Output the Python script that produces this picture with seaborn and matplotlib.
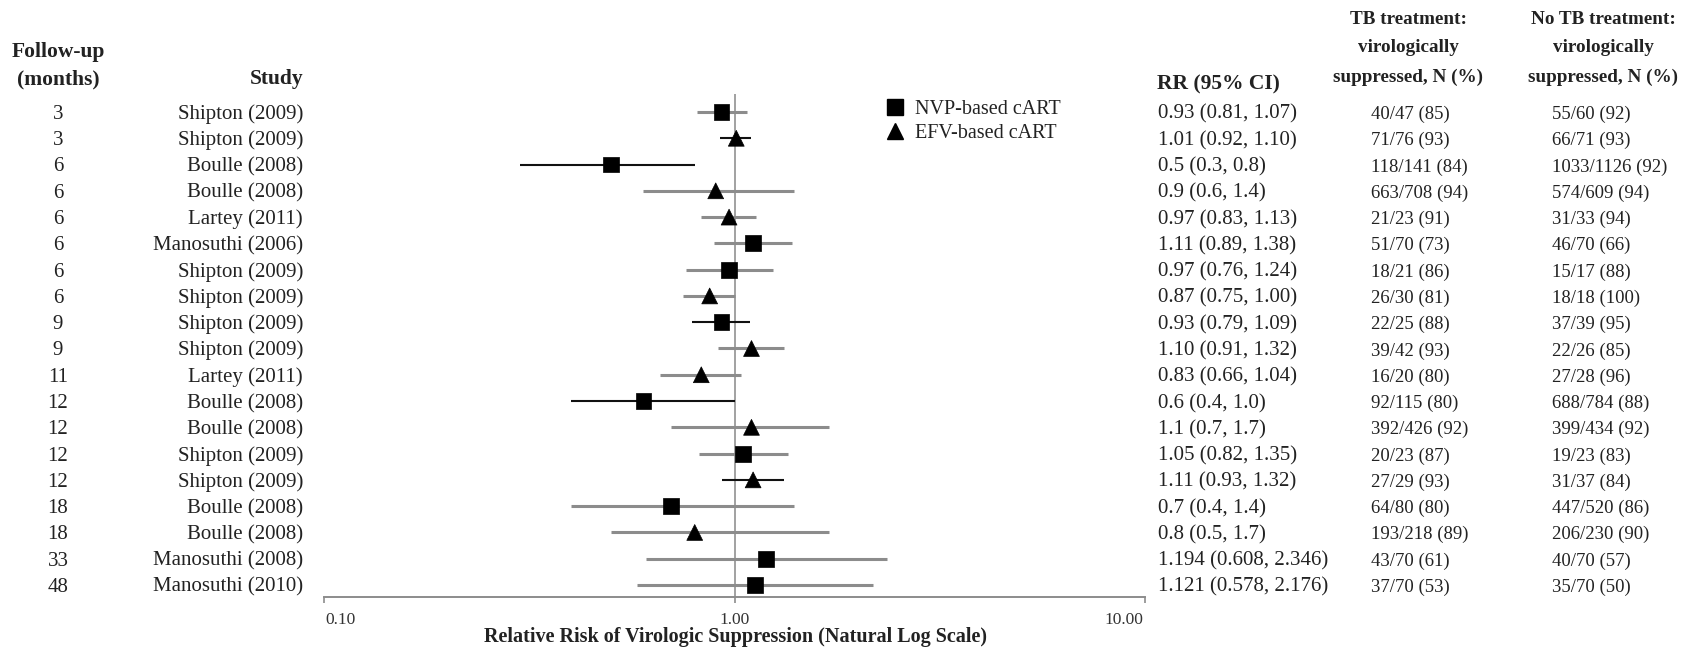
import matplotlib
matplotlib.use("Agg")
import matplotlib.pyplot as plt
import matplotlib.transforms as mtransforms
from matplotlib.lines import Line2D
import seaborn as sns
import pandas as pd

# ---------------- data ----------------
followup = [3, 3, 6, 6, 6, 6, 6, 6, 9, 9, 11, 12, 12, 12, 12, 18, 18, 33, 48]
studies = ["Shipton (2009)", "Shipton (2009)", "Boulle (2008)", "Boulle (2008)",
           "Lartey (2011)", "Manosuthi (2006)", "Shipton (2009)", "Shipton (2009)",
           "Shipton (2009)", "Shipton (2009)", "Lartey (2011)", "Boulle (2008)",
           "Boulle (2008)", "Shipton (2009)", "Shipton (2009)", "Boulle (2008)",
           "Boulle (2008)", "Manosuthi (2008)", "Manosuthi (2010)"]
regimen = ["NVP", "EFV", "NVP", "EFV", "EFV", "NVP", "NVP", "EFV", "NVP", "EFV",
           "EFV", "NVP", "EFV", "NVP", "EFV", "NVP", "EFV", "NVP", "NVP"]
rr = [0.93, 1.01, 0.5, 0.9, 0.97, 1.11, 0.97, 0.87, 0.93, 1.10,
      0.83, 0.6, 1.1, 1.05, 1.11, 0.7, 0.8, 1.194, 1.121]
ci_low = [0.81, 0.92, 0.3, 0.6, 0.83, 0.89, 0.76, 0.75, 0.79, 0.91,
          0.66, 0.4, 0.7, 0.82, 0.93, 0.4, 0.5, 0.608, 0.578]
ci_high = [1.07, 1.10, 0.8, 1.4, 1.13, 1.38, 1.24, 1.00, 1.09, 1.32,
           1.04, 1.0, 1.7, 1.35, 1.32, 1.4, 1.7, 2.346, 2.176]
dark_ci = [0, 1, 1, 0, 0, 0, 0, 0, 1, 0, 0, 1, 0, 0, 1, 0, 0, 0, 0]
rr_text = ["0.93 (0.81, 1.07)", "1.01 (0.92, 1.10)", "0.5 (0.3, 0.8)", "0.9 (0.6, 1.4)",
           "0.97 (0.83, 1.13)", "1.11 (0.89, 1.38)", "0.97 (0.76, 1.24)", "0.87 (0.75, 1.00)",
           "0.93 (0.79, 1.09)", "1.10 (0.91, 1.32)", "0.83 (0.66, 1.04)", "0.6 (0.4, 1.0)",
           "1.1 (0.7, 1.7)", "1.05 (0.82, 1.35)", "1.11 (0.93, 1.32)", "0.7 (0.4, 1.4)",
           "0.8 (0.5, 1.7)", "1.194 (0.608, 2.346)", "1.121 (0.578, 2.176)"]
tb_text = ["40/47 (85)", "71/76 (93)", "118/141 (84)", "663/708 (94)", "21/23 (91)",
           "51/70 (73)", "18/21 (86)", "26/30 (81)", "22/25 (88)", "39/42 (93)",
           "16/20 (80)", "92/115 (80)", "392/426 (92)", "20/23 (87)", "27/29 (93)",
           "64/80 (80)", "193/218 (89)", "43/70 (61)", "37/70 (53)"]
notb_text = ["55/60 (92)", "66/71 (93)", "1033/1126 (92)", "574/609 (94)", "31/33 (94)",
             "46/70 (66)", "15/17 (88)", "18/18 (100)", "37/39 (95)", "22/26 (85)",
             "27/28 (96)", "688/784 (88)", "399/434 (92)", "19/23 (83)", "31/37 (84)",
             "447/520 (86)", "206/230 (90)", "40/70 (57)", "35/70 (50)"]
regimen_names = {"NVP": "NVP-based cART", "EFV": "EFV-based cART"}
xticks = [0.1, 1, 10]
xticklabels = ["0.10", "1.00", "10.00"]

# ---------------- style ----------------
sns.set_theme(style="white")
plt.rcParams["font.family"] = ["Liberation Serif", "DejaVu Serif"]

W, H = 1694, 647
fig = plt.figure(figsize=(W / 100, H / 100), dpi=100)
fig.patch.set_facecolor("white")

ax_left, ax_right, ax_top, ax_bottom = 324, 1145, 94, 597
ax = fig.add_axes([ax_left / W, 1 - ax_bottom / H, (ax_right - ax_left) / W, (ax_bottom - ax_top) / H])
ax.set_facecolor("white")

n = len(rr)
df = pd.DataFrame({
    "row": list(range(n)),
    "rr": rr,
    "lo": ci_low,
    "hi": ci_high,
    "Regimen": [regimen_names[r] for r in regimen],
})

ax.set_xscale("log")
ax.set_xlim(0.1, 10)
ax.set_ylim(n - 1 + 0.457, -0.685)

# reference line at 1
ax.axvline(1, color="#9a9a9a", lw=1.3, zorder=1)

# CI lines
colors = ["#111111" if d else "#8c8c8c" for d in dark_ci]
widths = [1.5 if d else 2.2 for d in dark_ci]
ax.hlines(df["row"], df["lo"], df["hi"], colors=colors, linewidths=widths, zorder=2)

# point estimates
sns.scatterplot(data=df, x="rr", y="row", style="Regimen",
                markers={"NVP-based cART": "s", "EFV-based cART": "^"},
                color="black", s=130, edgecolor="black", linewidth=0.5,
                legend=False, ax=ax, zorder=3)

# axes styling
for sp in ["left", "top", "right"]:
    ax.spines[sp].set_visible(False)
ax.spines["bottom"].set_color("#8c8c8c")
ax.spines["bottom"].set_linewidth(1.4)
ax.set_xticks(xticks)
ax.set_xticklabels(xticklabels)
ax.xaxis.set_minor_locator(matplotlib.ticker.NullLocator())
ax.tick_params(axis="x", which="major", direction="out", length=4, width=1.2,
               color="#8c8c8c", labelsize=12.5, labelcolor="#333333", pad=7, bottom=True)
# shift end labels inward as in the original
label_shift = [16, 0, -21]
for lab, dx in zip(ax.get_xticklabels(), label_shift):
    lab.set_transform(lab.get_transform() + mtransforms.ScaledTranslation(dx / 100, 0, fig.dpi_scale_trans))
ax.set_yticks([])
ax.set_xlabel("")
ax.set_ylabel("")

# legend
handles = [Line2D([], [], marker="s", color="black", linestyle="", markersize=11),
           Line2D([], [], marker="^", color="black", linestyle="", markersize=11)]
fig.legend(handles, [regimen_names["NVP"], regimen_names["EFV"]],
           loc="upper left", bbox_to_anchor=(885 / W, 1 - 100 / H),
           frameon=False, fontsize=14.5, handlelength=1.0, handletextpad=0.5,
           labelspacing=0.25, borderpad=0, borderaxespad=0, labelcolor="#222222")

# table text columns
trans = mtransforms.blended_transform_factory(fig.transFigure, ax.transData) + \
    mtransforms.ScaledTranslation(0, -5 / 72, fig.dpi_scale_trans)
txt_kw = dict(fontsize=15, color="#222222", va="baseline", transform=trans)
sm_kw = dict(fontsize=13.5, color="#222222", va="baseline", transform=trans)
for i in range(n):
    ax.text(58 / W, i, str(followup[i]), ha="center", **txt_kw)
    ax.text(303 / W, i, studies[i], ha="right", **txt_kw)
    ax.text(1158 / W, i, rr_text[i], ha="left", **txt_kw)
    ax.text(1371 / W, i, tb_text[i], ha="left", **sm_kw)
    ax.text(1552 / W, i, notb_text[i], ha="left", **sm_kw)

# headers
hkw = dict(fontsize=15.5, fontweight="bold", color="#222222", va="center")
tkw = dict(fontsize=13.8, fontweight="bold", color="#222222", va="center")
fig.text(58 / W, 1 - 52 / H, "Follow-up", ha="center", **hkw)
fig.text(58 / W, 1 - 79 / H, "(months)", ha="center", **hkw)
fig.text(303 / W, 1 - 79 / H, "Study", ha="right", **hkw)
fig.text(1157 / W, 1 - 84 / H, "RR (95% CI)", ha="left", **hkw)
fig.text(1408 / W, 1 - 19 / H, "TB treatment:", ha="center", **tkw)
fig.text(1408 / W, 1 - 47 / H, "virologically", ha="center", **tkw)
fig.text(1408 / W, 1 - 77 / H, "suppressed, N (%)", ha="center", **tkw)
fig.text(1603 / W, 1 - 19 / H, "No TB treatment:", ha="center", **tkw)
fig.text(1603 / W, 1 - 47 / H, "virologically", ha="center", **tkw)
fig.text(1603 / W, 1 - 77 / H, "suppressed, N (%)", ha="center", **tkw)

fig.text(735 / W, 1 - 637 / H, "Relative Risk of Virologic Suppression (Natural Log Scale)",
         ha="center", fontsize=14.5, fontweight="bold", color="#222222", va="center")

fig.savefig("out.png", dpi=100, facecolor="white")
